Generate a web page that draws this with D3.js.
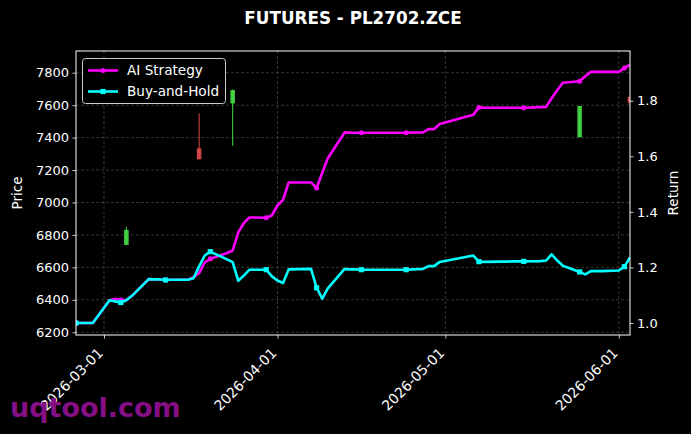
<!DOCTYPE html>
<html>
<head>
<meta charset="utf-8">
<script src="https://cdn.jsdelivr.net/npm/d3@7.9.0/dist/d3.min.js"></script>
<style>
  body { margin: 0; background: #000; }
  svg { display: block; font-family: "DejaVu Sans", sans-serif; }
</style>
</head>
<body>
<svg id="chart" width="691" height="434"></svg>
<script>
// trading days shown on the chart
const dates = [
  '2026-02-24', '2026-02-25', '2026-02-26', '2026-02-27',
  '2026-03-02', '2026-03-03', '2026-03-04', '2026-03-05', '2026-03-06',
  '2026-03-09', '2026-03-10', '2026-03-11', '2026-03-12', '2026-03-13',
  '2026-03-16', '2026-03-17', '2026-03-18', '2026-03-19', '2026-03-20',
  '2026-03-23', '2026-03-24', '2026-03-25', '2026-03-26', '2026-03-27',
  '2026-03-30', '2026-03-31', '2026-04-01', '2026-04-02', '2026-04-03',
  '2026-04-07', '2026-04-08', '2026-04-09', '2026-04-10',
  '2026-04-13', '2026-04-14', '2026-04-15', '2026-04-16', '2026-04-17',
  '2026-04-20', '2026-04-21', '2026-04-22', '2026-04-23', '2026-04-24',
  '2026-04-27', '2026-04-28', '2026-04-29', '2026-04-30',
  '2026-05-06', '2026-05-07', '2026-05-08',
  '2026-05-11', '2026-05-12', '2026-05-13', '2026-05-14', '2026-05-15',
  '2026-05-18', '2026-05-19', '2026-05-20', '2026-05-21', '2026-05-22',
  '2026-05-25', '2026-05-26', '2026-05-27', '2026-05-28', '2026-05-29',
  '2026-06-01', '2026-06-02', '2026-06-03'
];

const aiReturn = [
  1.000, 1.000, 1.000, 1.000,
  1.082, 1.087, 1.083, 1.083, 1.098,
  1.158, 1.157, 1.157, 1.155, 1.156,
  1.156, 1.165, 1.180, 1.218, 1.231,
  1.252, 1.261, 1.326, 1.360, 1.380,
  1.379, 1.387, 1.423, 1.443, 1.506,
  1.506, 1.486, 1.541, 1.593,
  1.686, 1.685, 1.685, 1.685, 1.685,
  1.685, 1.685, 1.685, 1.685, 1.685,
  1.686, 1.698, 1.698, 1.716,
  1.750, 1.776, 1.775,
  1.775, 1.775, 1.775, 1.775, 1.775,
  1.777, 1.778, 1.809, 1.838, 1.865,
  1.870, 1.888, 1.904, 1.904, 1.904,
  1.904, 1.918, 1.929
];

const bhReturn = [
  1.000, 1.000, 1.000, 1.000,
  1.082, 1.078, 1.074, 1.082, 1.098,
  1.158, 1.157, 1.157, 1.155, 1.156,
  1.156, 1.161, 1.204, 1.243, 1.257,
  1.229, 1.219, 1.152, 1.171, 1.192,
  1.192, 1.168, 1.153, 1.144, 1.193,
  1.195, 1.127, 1.088, 1.125,
  1.195, 1.193, 1.193, 1.192, 1.192,
  1.192, 1.192, 1.192, 1.192, 1.192,
  1.195, 1.205, 1.205, 1.220,
  1.243, 1.221, 1.220,
  1.221, 1.221, 1.222, 1.222, 1.222,
  1.223, 1.225, 1.247, 1.225, 1.206,
  1.184, 1.175, 1.187, 1.187, 1.187,
  1.189, 1.203, 1.236
];

// candles on the price axis
const candleDates = ['2026-03-05', '2026-03-18', '2026-03-24', '2026-05-25', '2026-06-03'];
const candleOpen = [6738, 7334, 7611, 7402, 7652];
const candleHigh = [6851, 7550, 7697, 7595, 7652];
const candleLow = [6738, 7266, 7350, 7402, 7615];
const candleClose = [6831, 7266, 7693, 7595, 7615];

const priceTicks = [6200, 6400, 6600, 6800, 7000, 7200, 7400, 7600, 7800];
const returnTicks = [1.0, 1.2, 1.4, 1.6, 1.8];
const dateTicks = ['2026-03-01', '2026-04-01', '2026-05-01', '2026-06-01'];

const parse = d3.timeParse('%Y-%m-%d');

const plotLeft = 76, plotRight = 630, plotTop = 51, plotBottom = 335;

const svg = d3.select('#chart');
svg.append('rect').attr('width', 691).attr('height', 434).attr('fill', '#000');

const x = d3.scaleTime()
  .domain([parse(dates[0]), parse(dates[dates.length - 1])])
  .range([plotLeft, plotRight]);
const yPrice = d3.scaleLinear().domain([6183, 7934]).range([plotBottom, plotTop]);
const yRet = d3.scaleLinear().domain([0.957, 1.979]).range([plotBottom, plotTop]);

svg.append('clipPath').attr('id', 'plot-clip')
  .append('rect')
  .attr('x', plotLeft).attr('y', plotTop)
  .attr('width', plotRight - plotLeft).attr('height', plotBottom - plotTop);

// grid
const grid = svg.append('g')
  .attr('stroke', '#4a4a4a')
  .attr('stroke-width', 0.7)
  .attr('stroke-dasharray', '3,2');

priceTicks.forEach((t) => {
  grid.append('line')
    .attr('x1', plotLeft).attr('x2', plotRight)
    .attr('y1', yPrice(t)).attr('y2', yPrice(t));
});
dateTicks.forEach((t) => {
  grid.append('line')
    .attr('x1', x(parse(t))).attr('x2', x(parse(t)))
    .attr('y1', plotTop).attr('y2', plotBottom);
});

const plot = svg.append('g').attr('clip-path', 'url(#plot-clip)');

// candles
const candles = candleDates.map((d, i) => ({
  date: parse(d),
  open: candleOpen[i],
  high: candleHigh[i],
  low: candleLow[i],
  close: candleClose[i]
}));

candles.forEach((c) => {
  const color = c.close >= c.open ? '#45dc45' : '#e04848';
  const cx = x(c.date);
  plot.append('line')
    .attr('x1', cx).attr('x2', cx)
    .attr('y1', yPrice(c.high)).attr('y2', yPrice(c.low))
    .attr('stroke', color)
    .attr('stroke-width', 1);
  const y0 = yPrice(Math.max(c.open, c.close));
  const y1 = yPrice(Math.min(c.open, c.close));
  plot.append('rect')
    .attr('x', cx - 2.3).attr('width', 4.6)
    .attr('y', y0).attr('height', Math.max(1, y1 - y0))
    .attr('fill', color)
    .attr('opacity', 0.9);
});

// return lines
const series = [
  { name: 'AI Strategy', values: aiReturn, color: '#ff00ff', marker: 'circle' },
  { name: 'Buy-and-Hold', values: bhReturn, color: '#00ffff', marker: 'square' }
];

const line = d3.line()
  .x((d) => x(d.date))
  .y((d) => yRet(d.value));

function drawMarker(g, shape, cx, cy, color) {
  if (shape === 'circle') {
    g.append('circle').attr('cx', cx).attr('cy', cy).attr('r', 2.5).attr('fill', color);
  } else {
    g.append('rect').attr('x', cx - 2.6).attr('y', cy - 2.6)
      .attr('width', 5.2).attr('height', 5.2).attr('fill', color);
  }
}

series.forEach((s) => {
  const pts = dates.map((d, i) => ({ date: parse(d), value: s.values[i] }));
  plot.append('path')
    .datum(pts)
    .attr('d', line)
    .attr('fill', 'none')
    .attr('stroke', s.color)
    .attr('stroke-width', 2.6)
    .attr('stroke-linejoin', 'round');
  pts.forEach((p, i) => {
    if (i % 6 === 0) drawMarker(plot, s.marker, x(p.date), yRet(p.value), s.color);
  });
});

// axes
const axisColor = '#fff';
const gLeft = svg.append('g')
  .attr('transform', `translate(${plotLeft},0)`)
  .call(d3.axisLeft(yPrice).tickValues(priceTicks).tickSize(3.5).tickPadding(3.5)
    .tickFormat(d3.format('d')));
const gRight = svg.append('g')
  .attr('transform', `translate(${plotRight},0)`)
  .call(d3.axisRight(yRet).tickValues(returnTicks).tickSize(3.5).tickPadding(3.5)
    .tickFormat(d3.format('.1f')));
const gBottom = svg.append('g')
  .attr('transform', `translate(0,${plotBottom})`)
  .call(d3.axisBottom(x).tickValues(dateTicks.map(parse)).tickSize(3.5).tickFormat(() => ''));

[gLeft, gRight, gBottom].forEach((g) => {
  g.select('.domain').remove();
  g.selectAll('line').attr('stroke', axisColor).attr('stroke-width', 0.8);
  g.selectAll('text').attr('fill', axisColor).style('font-size', '13px')
    .style('font-family', '"DejaVu Sans", sans-serif');
});

dateTicks.forEach((t) => {
  const tx = x(parse(t));
  svg.append('text')
    .attr('transform', `translate(${tx},${plotBottom + 19}) rotate(-45)`)
    .attr('text-anchor', 'end')
    .attr('fill', axisColor)
    .style('font-size', '14px')
    .text(t);
});

// spines
svg.append('rect')
  .attr('x', plotLeft).attr('y', plotTop)
  .attr('width', plotRight - plotLeft).attr('height', plotBottom - plotTop)
  .attr('fill', 'none')
  .attr('stroke', axisColor)
  .attr('stroke-width', 1);

// labels
svg.append('text')
  .attr('x', (plotLeft + plotRight) / 2).attr('y', 24)
  .attr('text-anchor', 'middle')
  .attr('fill', '#fff')
  .style('font-size', '16.8px')
  .style('font-weight', 'bold')
  .text('FUTURES - PL2702.ZCE');

svg.append('text')
  .attr('transform', `translate(22,${(plotTop + plotBottom) / 2}) rotate(-90)`)
  .attr('text-anchor', 'middle')
  .attr('fill', '#fff')
  .style('font-size', '13.5px')
  .text('Price');

svg.append('text')
  .attr('transform', `translate(678,${(plotTop + plotBottom) / 2}) rotate(-90)`)
  .attr('text-anchor', 'middle')
  .attr('fill', '#fff')
  .style('font-size', '13.5px')
  .text('Return');

// legend
const legend = svg.append('g');
legend.append('rect')
  .attr('x', 82.5).attr('y', 58.5)
  .attr('width', 143).attr('height', 45)
  .attr('rx', 3)
  .attr('fill', '#000')
  .attr('stroke', '#cccccc')
  .attr('stroke-width', 1);

series.forEach((s, i) => {
  const ly = 70.5 + i * 21;
  legend.append('line')
    .attr('x1', 88).attr('x2', 118)
    .attr('y1', ly).attr('y2', ly)
    .attr('stroke', s.color)
    .attr('stroke-width', 2.6);
  drawMarker(legend, s.marker, 103, ly, s.color);
  legend.append('text')
    .attr('x', 127).attr('y', ly + 4.8)
    .attr('fill', '#fff')
    .style('font-size', '13.6px')
    .text(s.name);
});

// watermark
svg.append('text')
  .attr('x', 10).attr('y', 417)
  .attr('fill', '#850f85')
  .style('font-size', '27px')
  .style('font-weight', 'bold')
  .text('uqtool.com');
</script>
</body>
</html>
